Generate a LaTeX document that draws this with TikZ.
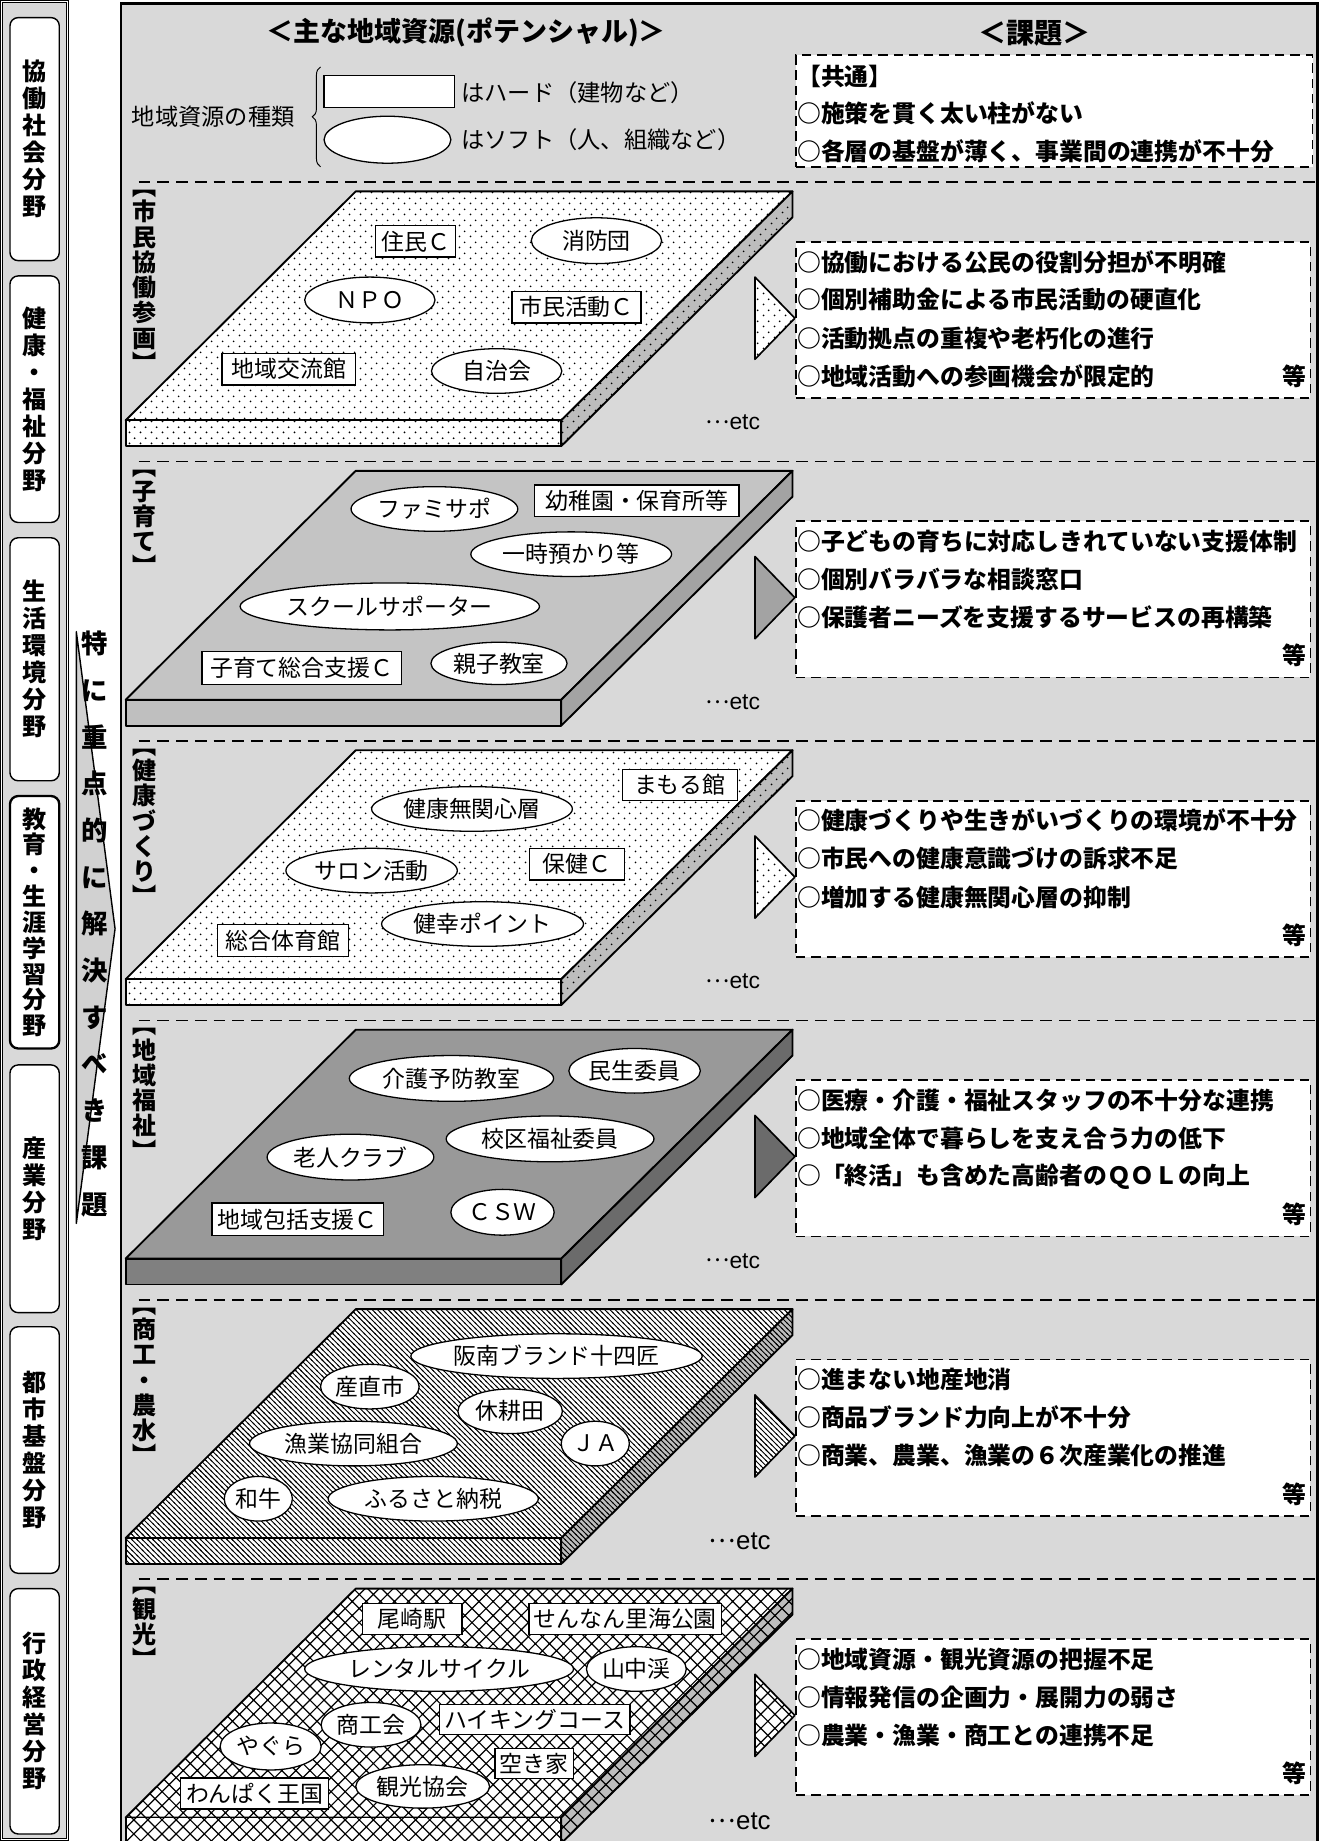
\documentclass[tikz,border=0pt]{standalone}
\usepackage{fontspec}
\setmainfont{Noto Sans CJK JP}
\newfontfamily\latf{Liberation Sans}
\usetikzlibrary{shapes.geometric,patterns,decorations.pathreplacing}

\pgfdeclarepatternformonly{pdots}{\pgfqpoint{0pt}{0pt}}{\pgfqpoint{9pt}{9pt}}{\pgfqpoint{9pt}{9pt}}{%
  \pgfpathcircle{\pgfqpoint{2.25pt}{2.25pt}}{0.85pt}%
  \pgfpathcircle{\pgfqpoint{6.75pt}{6.75pt}}{0.85pt}%
  \pgfusepath{fill}}
\pgfdeclarepatternformonly{pstripes}{\pgfqpoint{-1pt}{-1pt}}{\pgfqpoint{5.5pt}{5.5pt}}{\pgfqpoint{4.5pt}{4.5pt}}{%
  \pgfsetlinewidth{0.8pt}%
  \pgfpathmoveto{\pgfqpoint{-0.6pt}{5.1pt}}\pgfpathlineto{\pgfqpoint{5.1pt}{-0.6pt}}%
  \pgfusepath{stroke}}
\pgfdeclarepatternformonly{pxhatch}{\pgfqpoint{-1pt}{-1pt}}{\pgfqpoint{13pt}{13pt}}{\pgfqpoint{12pt}{12pt}}{%
  \pgfsetlinewidth{1.0pt}%
  \pgfpathmoveto{\pgfqpoint{-0.6pt}{-0.6pt}}\pgfpathlineto{\pgfqpoint{12.6pt}{12.6pt}}%
  \pgfpathmoveto{\pgfqpoint{-0.6pt}{12.6pt}}\pgfpathlineto{\pgfqpoint{12.6pt}{-0.6pt}}%
  \pgfusepath{stroke}}

\definecolor{bgc}{gray}{0.85}
\definecolor{gtwotop}{gray}{0.77}
\definecolor{gtwofront}{gray}{0.75}
\definecolor{gtwoside}{gray}{0.64}
\definecolor{gfourtop}{gray}{0.60}
\definecolor{gfourfront}{gray}{0.50}
\definecolor{gfourside}{gray}{0.42}
\definecolor{sidepat}{gray}{0.74}
\definecolor{arrowgray}{gray}{0.82}

\newcommand{\myslab}[4]{%
  \path[#2] (303,163+#1) -- (675,163+#1) -- (478,358+#1) -- (107,358+#1) -- cycle;
  \path[#3] (107,358+#1) -- (478,358+#1) -- (478,380+#1) -- (107,380+#1) -- cycle;
  \path[#4] (478,358+#1) -- (675,163+#1) -- (675,185+#1) -- (478,380+#1) -- cycle;
}
\newcommand{\mytri}[2]{%
  \path[#2, line width=1.4pt] (643,236+#1) -- (677,271+#1) -- (643,306+#1) -- cycle;
}
\newcommand{\hn}[6]{\node[hard, minimum width=#4pt, minimum height=#5pt] (#1) at (#2,#3) {#6};}
\newcommand{\sn}[6]{\node[soft, minimum width=#4pt, minimum height=#5pt] (#1) at (#2,#3) {#6};}
\newcommand{\etcx}{\raisebox{0.28em}{…}{\latf etc}}

\begin{document}
\begin{tikzpicture}[x=1pt,y=-1pt,
  every node/.style={inner sep=0pt, outer sep=0pt},
  itemfont/.style={font=\fontsize{19.5pt}{23pt}\selectfont},
  hard/.style={draw, fill=white, line width=1.1pt, rectangle, itemfont},
  soft/.style={draw, fill=white, line width=1.1pt, ellipse, itemfont},
  slabline/.style={draw=black, line width=1.6pt, line join=round},
  dotface/.style={slabline, pattern=pdots, preaction={fill=white}},
  dotside/.style={slabline, pattern=pdots, preaction={fill=sidepat}},
  stface/.style={slabline, pattern=pstripes, preaction={fill=white}},
  stside/.style={slabline, pattern=pstripes, preaction={fill=sidepat}},
  xhface/.style={slabline, pattern=pxhatch, preaction={fill=white}},
  xhside/.style={slabline, pattern=pxhatch, preaction={fill=sidepat}},
  colbox/.style={draw, fill=white, rounded corners=7pt, line width=1.2pt, align=center,
     minimum width=42pt, font=\fontsize{20.5pt}{23pt}\selectfont\bfseries},
  seclabel/.style={align=center, anchor=north, font=\fontsize{20.5pt}{21.5pt}\selectfont\bfseries},
  issuebox/.style={draw, fill=white, line width=1.4pt, dash pattern=on 8pt off 5pt, anchor=north west},
  iss/.style={anchor=west, font=\fontsize{20.3pt}{24pt}\selectfont\bfseries},
  etcn/.style={font=\fontsize{19.5pt}{23pt}\selectfont},
  sepline/.style={line width=1.3pt, dash pattern=on 10pt off 6pt},
  ttl/.style={font=\fontsize{23pt}{26pt}\selectfont\bfseries},
  legfont/.style={font=\fontsize{19.8pt}{23pt}\selectfont}
]
\useasboundingbox (0,0) rectangle (1130,1568);
\clip (0,0) rectangle (1130,1568);
\fill[white] (0,0) rectangle (1130,1568);

% left column
\draw[fill=bgc, line width=0.8pt, double=white, double distance=1.2pt] (1.5,1.5) rectangle (57.5,1566.5);
\node[colbox, minimum height=207pt] (c1) at (29.5,118.5) {協\\働\\社\\会\\分\\野};
\node[colbox, minimum height=210pt] (c2) at (29.5,340) {健\\康\\・\\福\\祉\\分\\野};
\node[colbox, minimum height=207pt] (c3) at (29.5,561.5) {生\\活\\環\\境\\分\\野};
\node[colbox, minimum height=215pt, line width=2pt, font=\fontsize{20.5pt}{22pt}\selectfont\bfseries] (c4) at (29.5,785.5) {教\\育\\・\\生\\涯\\学\\習\\分\\野};
\node[colbox, minimum height=211pt] (c5) at (29.5,1012.5) {産\\業\\分\\野};
\node[colbox, minimum height=210pt] (c6) at (29.5,1235) {都\\市\\基\\盤\\分\\野};
\node[colbox, minimum height=209pt] (c7) at (29.5,1457.5) {行\\政\\経\\営\\分\\野};

% focus arrow
\draw[fill=arrowgray, line width=1.2pt, line join=round] (65,538) -- (98,791) -- (65,1042) -- cycle;
\node[align=center, font=\fontsize{22.5pt}{39.75pt}\selectfont\bfseries] (focus) at (80.5,787)
  {特\\に\\重\\点\\的\\に\\解\\決\\す\\べ\\き\\課\\題};

% main panel
\fill[bgc] (103,3) rectangle (1122,1580);
\foreach \yy in {155,393,631,869,1107,1345}
  \draw[sepline] (118,\yy) -- (1121,\yy);

% titles
\node[ttl] (t1) at (397,28) {＜主な地域資源(ポテンシャル)＞};
\node[ttl, font=\fontsize{24pt}{26pt}\selectfont\bfseries] (t2) at (881,28) {＜課題＞};

% legend
\node[legfont, anchor=east] (lgt) at (251,99) {地域資源の種類};
\draw[line width=0.8pt, decorate, decoration={brace, amplitude=7pt}] (273,142) -- (273,57);
\node[hard, minimum width=111pt, minimum height=27pt] (lgh) at (331.5,78) {};
\node[soft, minimum width=108pt, minimum height=40pt] (lgs) at (330,119) {};
\node[legfont, anchor=west] (lght) at (393,79) {はハード（建物など）};
\node[legfont, anchor=west] (lgst) at (393,119) {はソフト（人、組織など）};

% common issues
\node[issuebox, minimum width=440pt, minimum height=95pt] (b0) at (678,47) {};
\node[iss] (b0a) at (679,65) {【共通】};
\node[iss] (b0b) at (679,96.5) {○施策を貫く太い柱がない};
\node[iss] (b0c) at (679,129) {○各層の基盤が薄く、事業間の連携が不十分};

% ---------- section 1
\myslab{0}{dotface}{dotface}{dotside}
\mytri{0}{dotface}
\hn{s1a}{354}{205.5}{68}{27}{住民Ｃ}
\sn{s1b}{508}{205}{111}{39}{消防団}
\sn{s1c}{315}{255.5}{111}{39}{ＮＰＯ}
\hn{s1d}{491}{261.5}{110}{27}{市民活動Ｃ}
\hn{s1e}{246}{314.5}{114}{27}{地域交流館}
\sn{s1f}{423}{316}{111}{38}{自治会}
\node[seclabel] (l1) at (123.5,162) {︻\\市\\民\\協\\働\\参\\画\\︼};
\node[etcn] (e1) at (624,360) {\etcx};
\node[issuebox, minimum width=438pt, minimum height=133pt] (b1) at (678,206) {};
\node[iss] (b1a) at (679,223) {○協働における公民の役割分担が不明確};
\node[iss] (b1b) at (679,255.5) {○個別補助金による市民活動の硬直化};
\node[iss] (b1c) at (679,288) {○活動拠点の重複や老朽化の進行};
\node[iss] (b1d) at (679,320.5) {○地域活動への参画機会が限定的};
\node[iss, anchor=east] (b1e) at (1113,320.5) {等};

% ---------- section 2
\myslab{238}{slabline, fill=gtwotop}{slabline, fill=gtwofront}{slabline, fill=gtwoside}
\mytri{238}{slabline, fill=gtwoside}
\sn{s2a}{370}{433.5}{142}{38}{ファミサポ}
\hn{s2b}{542.5}{426.5}{174}{27}{幼稚園・保育所等}
\sn{s2c}{486.5}{472}{171}{38}{一時預かり等}
\sn{s2d}{332}{516.5}{255}{40}{スクールサポーター}
\hn{s2e}{257}{569}{170}{28}{子育て総合支援Ｃ}
\sn{s2f}{425}{565}{116}{36}{親子教室}
\node[seclabel] (l2) at (123.5,400) {︻\\子\\育\\て\\︼};
\node[etcn] (e2) at (624,598) {\etcx};
\node[issuebox, minimum width=438pt, minimum height=133pt] (b2) at (678,444) {};
\node[iss] (b2a) at (679,461) {○子どもの育ちに対応しきれていない支援体制};
\node[iss] (b2b) at (679,493.5) {○個別バラバラな相談窓口};
\node[iss] (b2c) at (679,526) {○保護者ニーズを支援するサービスの再構築};
\node[iss, anchor=east] (b2e) at (1113,558.5) {等};

% ---------- section 3
\myslab{476}{dotface}{dotface}{dotside}
\mytri{476}{dotface}
\sn{s3a}{402}{689}{171}{38}{健康無関心層}
\hn{s3b}{579}{668.5}{98}{26}{まもる館}
\sn{s3c}{316.5}{741.5}{146}{38}{サロン活動}
\hn{s3d}{491.5}{736}{81}{27}{保健Ｃ}
\sn{s3e}{411}{787}{172}{38}{健幸ポイント}
\hn{s3f}{241}{801}{112}{27}{総合体育館}
\node[seclabel] (l3) at (123.5,638) {︻\\健\\康\\づ\\く\\り\\︼};
\node[etcn] (e3) at (624,836) {\etcx};
\node[issuebox, minimum width=438pt, minimum height=133pt] (b3) at (678,682) {};
\node[iss] (b3a) at (679,699) {○健康づくりや生きがいづくりの環境が不十分};
\node[iss] (b3b) at (679,731.5) {○市民への健康意識づけの訴求不足};
\node[iss] (b3c) at (679,764) {○増加する健康無関心層の抑制};
\node[iss, anchor=east] (b3e) at (1113,796.5) {等};

% ---------- section 4
\myslab{714}{slabline, fill=gfourtop}{slabline, fill=gfourfront}{slabline, fill=gfourside}
\mytri{714}{slabline, fill=gfourside}
\sn{s4a}{384.5}{918.5}{174}{39}{介護予防教室}
\sn{s4b}{540.5}{912}{112}{38}{民生委員}
\sn{s4c}{468.5}{970}{177}{39}{校区福祉委員}
\sn{s4d}{298.5}{985.5}{142}{39}{老人クラブ}
\hn{s4e}{253.5}{1038.5}{146}{28}{地域包括支援Ｃ}
\sn{s4f}{428}{1032.5}{88}{39}{ＣＳＷ}
\node[seclabel] (l4) at (123.5,876) {︻\\地\\域\\福\\祉\\︼};
\node[etcn] (e4) at (624,1074) {\etcx};
\node[issuebox, minimum width=438pt, minimum height=133pt] (b4) at (678,920) {};
\node[iss] (b4a) at (679,937) {○医療・介護・福祉スタッフの不十分な連携};
\node[iss] (b4b) at (679,969.5) {○地域全体で暮らしを支え合う力の低下};
\node[iss] (b4c) at (679,1002) {○「終活」も含めた高齢者のＱＯＬの向上};
\node[iss, anchor=east] (b4e) at (1113,1034.5) {等};

% ---------- section 5
\myslab{952}{stface}{stface}{stside}
\mytri{952}{stface}
\sn{s5a}{474}{1155}{232}{38}{阪南ブランド十四匠}
\sn{s5b}{315}{1181}{84}{38}{産直市}
\sn{s5c}{434.5}{1202}{89}{38}{休耕田}
\sn{s5d}{507}{1229.5}{58}{38}{ＪＡ}
\sn{s5e}{301}{1229.5}{177}{38}{漁業協同組合}
\sn{s5f}{220}{1276.5}{58}{38}{和牛}
\sn{s5g}{369}{1276.5}{179}{38}{ふるさと納税}
\node[seclabel] (l5) at (123.5,1114) {︻\\商\\工\\・\\農\\水\\︼};
\node[etcn, font=\fontsize{22pt}{26pt}\selectfont] (e5) at (630,1313) {\etcx};
\node[issuebox, minimum width=438pt, minimum height=133pt] (b5) at (678,1158) {};
\node[iss] (b5a) at (679,1175) {○進まない地産地消};
\node[iss] (b5b) at (679,1207.5) {○商品ブランド力向上が不十分};
\node[iss] (b5c) at (679,1240) {○商業、農業、漁業の６次産業化の推進};
\node[iss, anchor=east] (b5e) at (1113,1272.5) {等};

% ---------- section 6
\myslab{1190}{xhface}{xhface}{xhside}
\mytri{1190}{xhface}
\hn{s6a}{351}{1379}{85}{26.5}{尾崎駅}
\hn{s6b}{532.5}{1379}{164}{26.5}{せんなん里海公園}
\sn{s6c}{374}{1421.5}{229}{38}{レンタルサイクル}
\sn{s6d}{542}{1421.5}{85}{38}{山中渓}
\sn{s6e}{316}{1469}{85}{38}{商工会}
\hn{s6f}{455.5}{1464.5}{162}{26}{ハイキングコース}
\sn{s6g}{230.5}{1487.5}{86}{40}{やぐら}
\hn{s6h}{455}{1502}{67}{26}{空き家}
\sn{s6i}{360}{1521.5}{114}{37}{観光協会}
\hn{s6j}{217}{1527.5}{126}{26.5}{わんぱく王国}
\node[seclabel] (l6) at (123.5,1352) {︻\\観\\光\\︼};
\node[etcn, font=\fontsize{22pt}{26pt}\selectfont] (e6) at (630,1551) {\etcx};
\node[issuebox, minimum width=438pt, minimum height=133pt] (b6) at (678,1396) {};
\node[iss] (b6a) at (679,1413) {○地域資源・観光資源の把握不足};
\node[iss] (b6b) at (679,1445.5) {○情報発信の企画力・展開力の弱さ};
\node[iss] (b6c) at (679,1478) {○農業・漁業・商工との連携不足};
\node[iss, anchor=east] (b6e) at (1113,1510.5) {等};

% panel border
\draw[line width=2.4pt] (103,3) rectangle (1122,1590);
\end{tikzpicture}
\end{document}
